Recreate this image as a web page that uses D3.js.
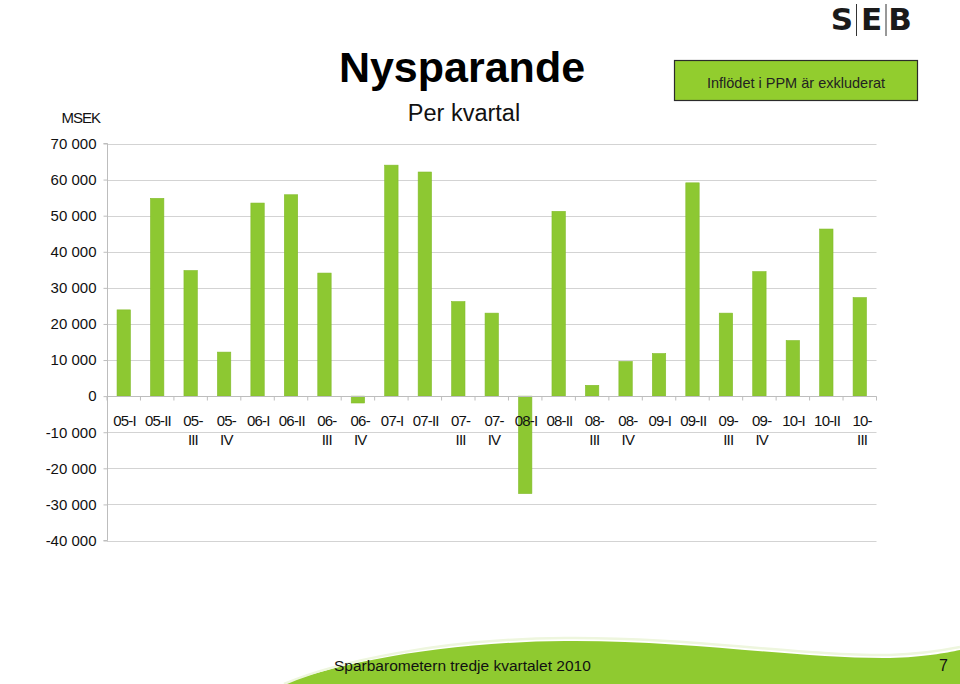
<!DOCTYPE html>
<html>
<head>
<meta charset="utf-8">
<script src="https://cdn.jsdelivr.net/npm/d3@7"></script>
<style>
  html, body { margin: 0; padding: 0; background: #fff; }
  svg { display: block; font-family: "Liberation Sans", Arial, sans-serif; }
</style>
</head>
<body>
<div id="chart"></div>
<script>
const categories = ["05-I","05-II","05-III","05-IV","06-I","06-II","06-III","06-IV",
  "07-I","07-II","07-III","07-IV","08-I","08-II","08-III","08-IV",
  "09-I","09-II","09-III","09-IV","10-I","10-II","10-III"];
const values = [23900, 54800, 34800, 12200, 53500, 55800, 34100, -1900,
  64000, 62100, 26200, 23000, -27000, 51200, 3000, 9600,
  11800, 59100, 23000, 34500, 15400, 46300, 27300];
const yTicks = [-40000, -30000, -20000, -10000, 0, 10000, 20000, 30000, 40000, 50000, 60000, 70000];
const titleText = "Nysparande";
const subtitleText = "Per kvartal";
const unitText = "MSEK";
const noteText = "Inflödet i PPM är exkluderat";
const footerText = "Sparbarometern tredje kvartalet 2010";
const pageNumber = "7";

const W = 960, H = 684;
const green = "#8dc832";
const svg = d3.select("#chart").append("svg").attr("width", W).attr("height", H);

// Footer wave
svg.append("path")
  .attr("d", "M284,684 C335,664 440,642 565,641 C690,640 800,659 890,658 C925,657 945,653 960,650 L960,684 Z")
  .attr("fill", "#8fca30");
svg.append("path")
  .attr("d", "M284,684 C335,662 440,639 565,638 C690,637 800,656 890,655 C925,654 945,650 960,647")
  .attr("fill", "none").attr("stroke", "#eef6de").attr("stroke-width", 2.5);
svg.append("text").attr("x", 334).attr("y", 671)
  .attr("font-size", 15.5).attr("fill", "#111").text(footerText);
svg.append("text").attr("x", 948).attr("y", 671).attr("text-anchor", "end")
  .attr("font-size", 16).attr("fill", "#111").text(pageNumber);

// SEB logo
const logo = svg.append("g");
[["S", 842], ["E", 871.5], ["B", 900]].forEach(([ch, cx]) => {
  logo.append("text").attr("x", cx).attr("y", 30).attr("text-anchor", "middle")
    .attr("font-size", 31).attr("font-weight", 900).attr("fill", "#1a1a1a")
    .style("font-family", "'DejaVu Sans', 'Liberation Sans', sans-serif")
    .text(ch);
});
[856.5, 886].forEach(x => {
  logo.append("line").attr("x1", x).attr("x2", x).attr("y1", 4).attr("y2", 36)
    .attr("stroke", "#333").attr("stroke-width", 1);
});

// Title
svg.append("text").attr("x", 462).attr("y", 82).attr("text-anchor", "middle")
  .attr("font-size", 43).attr("font-weight", "bold").attr("fill", "#000").text(titleText);
svg.append("text").attr("x", 464).attr("y", 121).attr("text-anchor", "middle")
  .attr("font-size", 23.5).attr("fill", "#111").text(subtitleText);

// Note box
svg.append("rect").attr("x", 674.5).attr("y", 60.5).attr("width", 243).attr("height", 40)
  .attr("fill", "#92cd2e").attr("stroke", "#2b2b2b").attr("stroke-width", 1.2);
svg.append("text").attr("x", 796).attr("y", 87.5).attr("text-anchor", "middle")
  .attr("font-size", 14.5).attr("fill", "#222").text(noteText);

// Unit
svg.append("text").attr("x", 100).attr("y", 123).attr("text-anchor", "end")
  .attr("font-size", 15).attr("letter-spacing", "-1px").attr("fill", "#111").text(unitText);

// Scales
const x = d3.scaleBand().domain(categories).range([107, 876.5]).paddingInner(0.6).paddingOuter(0.3);
const y = d3.scaleLinear().domain([-40000, 70000]).range([540.5, 143.5]);
const step = x.step();

// Gridlines
svg.append("g").selectAll("line").data(yTicks).join("line")
  .attr("x1", 107).attr("x2", 876.5)
  .attr("y1", d => Math.round(y(d)) + 0.5).attr("y2", d => Math.round(y(d)) + 0.5)
  .attr("stroke", "#d3d3d3").attr("stroke-width", 1.2);

// Y axis
const fmt = v => d3.format(",")(v).replace(/,/g, " ").replace("\u2212", "-");
const yAxis = d3.axisLeft(y).tickValues(yTicks).tickSize(4).tickPadding(7).tickFormat(fmt);
const yg = svg.append("g").attr("transform", "translate(107.5,0)").call(yAxis);
yg.select(".domain").attr("stroke", "#bdbdbd").attr("d", `M-4,${y(70000)}H0V${y(-40000)}H-4`);
yg.selectAll(".tick line").attr("stroke", "#bdbdbd");
yg.selectAll(".tick text").attr("font-size", 15).attr("fill", "#111")
  .style("font-family", "'Liberation Sans', Arial, sans-serif");

// Bars
svg.append("g").selectAll("rect").data(categories).join("rect")
  .attr("x", (d) => x(d))
  .attr("width", x.bandwidth())
  .attr("y", (d, i) => y(Math.max(0, values[i])))
  .attr("height", (d, i) => Math.abs(y(values[i]) - y(0)))
  .attr("fill", green)
  .attr("stroke", "#82bb2a").attr("stroke-width", 0.6);

// X axis line and ticks
const y0 = Math.round(y(0)) + 0.5;
svg.append("line").attr("x1", 107).attr("x2", 876.5).attr("y1", y0).attr("y2", y0)
  .attr("stroke", "#bdbdbd").attr("stroke-width", 1);
const bounds = d3.range(categories.length + 1).map(i => 107 + i * step);
svg.append("g").selectAll("line").data(bounds).join("line")
  .attr("x1", d => d).attr("x2", d => d).attr("y1", y0).attr("y2", y0 + 4)
  .attr("stroke", "#bdbdbd");

// Category labels (wrap after the hyphen when the label is wider than a band)
const lab = svg.append("g").attr("font-size", 15).attr("fill", "#111");
categories.forEach(c => {
  const cx = x(c) + x.bandwidth() / 2 + 0.8;
  const t = lab.append("text").attr("x", cx).attr("y", 426).attr("text-anchor", "middle").text(c);
  const w = t.node().getComputedTextLength();
  t.attr("letter-spacing", "-0.8px");
  if (w > step) {
    const parts = c.split("-");
    t.text(parts[0] + "-").attr("x", cx + 1.5);
    lab.append("text").attr("x", cx + 1.5).attr("y", 445).attr("text-anchor", "middle")
      .attr("letter-spacing", "-0.8px").text(parts[1]);
  }
});
</script>
</body>
</html>
